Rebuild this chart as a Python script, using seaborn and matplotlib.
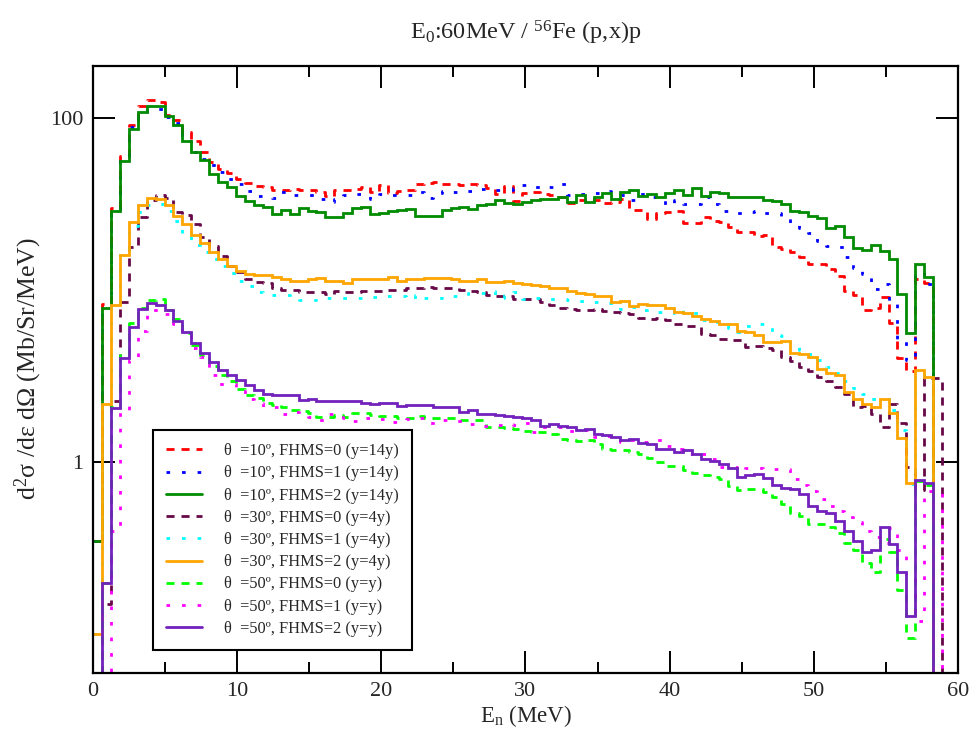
import numpy as np
import pandas as pd
import matplotlib
matplotlib.use("Agg")
import matplotlib.pyplot as plt
from matplotlib.ticker import NullLocator
from matplotlib.lines import Line2D
import seaborn as sns

# ---------------- data (per energy bin, bin width 0.62 MeV) ----------------
BIN_W = 0.62
NBIN = 95
OFF = 0.001  # below the axis: bin is empty

s10_0 = [0.35, 8.3, 30, 59.5, 90.6, 116, 127, 123, 103, 96.6,
         82.4, 73.6, 63, 55.2, 50.5, 47.6, 44.2, 41.6, 40.0, 39.6,
         37.8, 38.2, 38.7, 37.8, 37.8, 37.0, 34.9, 38.2, 37.8, 38.7,
         39.4, 37.0, 40.4, 36.5, 37.4, 37.8, 40.9, 41.6, 42.0, 41.3,
         41.3, 40.7, 40.9, 40.4, 39.0, 36.2, 39.9, 32.8, 36.5, 37.0,
         36.2, 35.3, 34.6, 31.9, 33.1, 33.8, 33.1, 31.9, 32.4, 33.5,
         28.9, 28.9, 25.7, 27.9, 28.2, 28.7, 24.4, 24.4, 26.5, 25.0,
         24.7, 23.2, 21.7, 21.7, 20.6, 20.9, 17.7, 17.3, 16.7, 15.5,
         14.2, 14.2, 13.3, 12.0, 9.9, 9.4, 7.6, 7.8, 9.1, 6.4,
         4.0, 3.4, 11.5, 11.0, OFF]
s10_1 = [0.35, 7.9, 28.6, 56, 88, 101, 110, 112, 101, 92.6,
         73.6, 63, 57.6, 52.8, 48.3, 44.2, 41.3, 37.5, 34.9, 34.9,
         34.2, 37.0, 35.6, 35.6, 35.3, 33.8, 32.4, 33.5, 35.3, 36.2,
         34.9, 33.8, 36.2, 35.6, 35.6, 35.3, 37.0, 34.2, 36.5, 37.5,
         37.0, 37.4, 37.4, 38.4, 38.4, 37.8, 37.8, 39.0, 40.7, 39.6,
         40.0, 39.6, 41.3, 35.6, 36.2, 36.2, 36.7, 37.4, 37.0, 35.3,
         33.3, 36.2, 34.6, 33.3, 31.0, 33.3, 31.4, 31.4, 34.6, 31.4,
         28.7, 28.7, 28.1, 28.2, 28.7, 27.9, 27.9, 26.5, 24.4, 22.9,
         21.3, 19.2, 17.9, 17.7, 15.5, 13.4, 12.3, 10.1, 10.8, 8.5,
         5.2, 3.9, 12.7, 10.8, OFF]
s10_2 = [0.35, 7.9, 28.6, 56, 85.5, 108, 116, 116, 102, 90.6,
         73.6, 63, 56.4, 46.9, 42.3, 39.6, 34.9, 32.7, 31.2, 30.3,
         27.7, 28.9, 27.7, 30.0, 28.7, 28.2, 26.4, 26.4, 27.9, 30.0,
         30.3, 27.7, 28.1, 28.6, 29.2, 29.6, 26.8, 26.8, 26.8, 29.2,
         29.9, 30.3, 29.3, 31.0, 31.7, 33.1, 31.9, 31.4, 32.4, 33.1,
         33.5, 33.8, 34.6, 32.4, 35.4, 32.4, 34.6, 36.7, 33.8, 36.8,
         37.8, 34.9, 36.2, 34.6, 36.7, 38.2, 35.6, 39.0, 35.1, 37.2,
         36.7, 34.4, 34.4, 34.4, 34.4, 33.1, 32.8, 31.7, 28.7, 28.2,
         27.0, 26.1, 22.9, 23.4, 20.3, 17.5, 17.1, 18.1, 16.9, 15.2,
         9.5, 5.6, 14.2, 11.9, OFF]
s30_0 = [OFF, 0.15, 2.26, 8.5, 17.7, 26.5, 33.1, 35.6, 34.2, 28.2,
         27.3, 24.2, 20.3, 17.9, 15.8, 13.8, 12.7, 11.6, 11.1, 10.9,
         10.2, 10.0, 10.0, 9.7, 9.7, 9.7, 9.5, 9.9, 9.7, 9.7,
         9.9, 9.9, 9.9, 10.0, 10.0, 10.3, 10.3, 10.4, 10.2, 10.3,
         10.2, 10.0, 9.8, 9.7, 9.3, 9.2, 9.2, 8.9, 8.8, 8.8,
         8.5, 8.2, 7.9, 7.7, 7.6, 7.6, 7.7, 7.5, 7.4, 7.3,
         7.2, 6.85, 6.8, 6.9, 6.65, 6.35, 6.2, 6.2, 5.56, 5.5,
         5.2, 5.13, 5.13, 4.65, 4.7, 4.6, 4.45, 4.07, 3.86, 3.56,
         3.37, 3.12, 2.95, 2.73, 2.49, 2.1, 2.13, 1.9, 1.61, 2.18,
         1.68, 0.935, 0.69, 3.06, 3.06]
s30_1 = [0.1, 2.13, 8.0, 16.0, 23.6, 28.5, 31.0, 31.7, 28.7, 25.0,
         21.2, 18.1, 16.6, 15.2, 13.8, 12.5, 11.2, 10.6, 9.7, 9.4,
         9.4, 9.4, 8.8, 8.7, 8.7, 9.0, 9.0, 9.0, 9.0, 9.0,
         9.0, 9.1, 9.2, 9.2, 9.2, 8.8, 9.4, 9.0, 9.0, 9.2,
         9.2, 9.2, 9.6, 9.6, 9.8, 9.0, 9.4, 9.7, 8.8, 9.0,
         9.0, 8.9, 8.9, 8.7, 8.6, 8.55, 8.5, 8.4, 8.2, 7.7,
         8.0, 7.6, 7.4, 7.4, 7.3, 7.7, 7.2, 7.3, 6.65, 6.5,
         6.5, 6.0, 5.7, 6.2, 6.3, 6.3, 5.5, 5.37, 4.87, 4.45,
         4.26, 3.93, 3.56, 3.29, 2.94, 2.69, 2.49, 2.33, 2.33, 2.0,
         1.53, 0.75, 3.3, 3.0, OFF]
s30_2 = [0.1, 2.18, 8.2, 16.0, 24.7, 31.2, 34.2, 33.8, 31.0, 27.0,
         24.2, 20.9, 18.7, 16.6, 15.2, 13.8, 12.8, 12.4, 12.2, 12.2,
         11.9, 11.6, 11.3, 11.2, 11.5, 11.7, 11.3, 11.3, 10.9, 11.5,
         11.5, 11.5, 11.5, 11.8, 11.3, 11.5, 11.5, 11.7, 11.7, 11.7,
         11.6, 11.3, 11.2, 11.5, 11.1, 11.1, 11.2, 10.9, 10.8, 10.7,
         10.6, 10.2, 10.2, 9.8, 9.6, 9.5, 9.2, 9.2, 8.5, 8.6,
         8.1, 8.3, 8.2, 8.2, 7.9, 7.4, 7.3, 7.1, 6.8, 6.6,
         6.35, 6.3, 5.8, 5.7, 5.5, 5.0, 5.0, 5.05, 4.3, 4.25,
         4.07, 3.48, 3.29, 3.19, 2.55, 2.33, 2.18, 2.09, 2.33, 1.93,
         1.39, 0.755, 3.41, 3.12, OFF]
s50_0 = [OFF, 0.2, 2.1, 4.17, 6.4, 7.9, 8.7, 8.8, 7.6, 6.8,
         5.6, 4.8, 4.2, 3.6, 3.19, 2.94, 2.67, 2.44, 2.36, 2.2,
         2.15, 2.1, 2.0, 1.98, 1.93, 1.84, 1.84, 1.87, 1.83, 1.93,
         1.93, 1.87, 1.85, 1.85, 1.81, 1.81, 1.85, 1.8, 1.8, 1.81,
         1.81, 1.75, 1.75, 1.76, 1.6, 1.6, 1.58, 1.55, 1.51, 1.5,
         1.5, 1.46, 1.37, 1.35, 1.32, 1.35, 1.28, 1.2, 1.18, 1.17,
         1.14, 1.12, 1.06, 1.0, 0.95, 0.95, 0.90, 0.87, 0.84, 0.82,
         0.80, 0.73, 0.685, 0.70, 0.70, 0.67, 0.63, 0.57, 0.51, 0.49,
         0.435, 0.435, 0.42, 0.39, 0.34, 0.31, 0.26, 0.23, 0.36, 0.30,
         0.18, 0.096, 0.78, 0.74, OFF]
s50_1 = [OFF, OFF, 0.4, 2.0, 3.9, 5.8, 7.6, 7.6, 7.2, 6.3,
         5.74, 4.6, 4.1, 3.21, 2.85, 2.85, 2.58, 2.33, 2.2, 2.09,
         2.09, 1.91, 1.95, 1.9, 1.84, 1.75, 1.91, 1.83, 1.8, 1.73,
         1.81, 1.79, 1.79, 1.71, 1.71, 1.77, 1.81, 1.69, 1.69, 1.75,
         1.73, 1.73, 1.67, 1.63, 1.63, 1.65, 1.67, 1.65, 1.69, 1.49,
         1.6, 1.6, 1.6, 1.51, 1.51, 1.53, 1.4, 1.41, 1.41, 1.31,
         1.34, 1.31, 1.31, 1.34, 1.24, 1.2, 1.11, 1.14, 1.11, 1.05,
         0.94, 0.94, 0.89, 0.92, 0.92, 0.91, 0.91, 0.91, 0.80, 0.74,
         0.68, 0.61, 0.56, 0.52, 0.48, 0.45, 0.40, 0.37, 0.34, 0.415,
         0.31, 0.22, 0.12, 0.68, 0.68]
s50_2 = [OFF, 0.2, 2.05, 4.04, 6.08, 7.77, 8.4, 8.2, 7.6, 6.6,
         5.7, 4.94, 4.3, 3.8, 3.45, 3.19, 2.98, 2.79, 2.61, 2.49,
         2.46, 2.44, 2.44, 2.31, 2.33, 2.25, 2.26, 2.28, 2.26, 2.28,
         2.2, 2.18, 2.21, 2.21, 2.13, 2.16, 2.16, 2.16, 2.09, 2.1,
         2.1, 1.95, 2.0, 1.91, 1.91, 1.87, 1.86, 1.84, 1.81, 1.76,
         1.63, 1.66, 1.63, 1.6, 1.53, 1.55, 1.46, 1.44, 1.4, 1.35,
         1.37, 1.3, 1.28, 1.2, 1.2, 1.14, 1.18, 1.11, 1.04, 1.02,
         0.98, 0.93, 0.82, 0.84, 0.85, 0.81, 0.74, 0.71, 0.70, 0.65,
         0.56, 0.52, 0.51, 0.455, 0.40, 0.35, 0.30, 0.31, 0.42, 0.336,
         0.23, 0.128, 0.79, 0.76, OFF]

labels = ["\u03b8  =10\u00ba, FHMS=0 (y=14y)", "\u03b8  =10\u00ba, FHMS=1 (y=14y)",
          "\u03b8  =10\u00ba, FHMS=2 (y=14y)", "\u03b8  =30\u00ba, FHMS=0 (y=4y)",
          "\u03b8  =30\u00ba, FHMS=1 (y=4y)", "\u03b8  =30\u00ba, FHMS=2 (y=4y)",
          "\u03b8  =50\u00ba, FHMS=0 (y=y)", "\u03b8  =50\u00ba, FHMS=1 (y=y)",
          "\u03b8  =50\u00ba, FHMS=2 (y=y)"]
series = [s10_0, s10_1, s10_2, s30_0, s30_1, s30_2, s50_0, s50_1, s50_2]

# ---------------- styles ----------------
colors = ["#ff0000", "#0000ff", "#008b00", "#670748", "#00ffff", "#ffa500",
          "#00ff00", "#ff00ff", "#7221bc"]
DASH = (0, (2.9, 2.5))
DOT = (0, (1.3, 4.3))
styles = [DASH, DOT, "-", DASH, DOT, "-", DASH, DOT, "-"]

sns.set_style("ticks")
plt.rcParams["font.family"] = ["Liberation Serif", "DejaVu Serif"]
plt.rcParams["mathtext.fontset"] = "custom"
plt.rcParams["mathtext.rm"] = "Liberation Serif"
plt.rcParams["mathtext.it"] = "Liberation Serif:italic"

fig = plt.figure(figsize=(9.75, 7.33), dpi=100)
ax = fig.add_axes([0.09538, 0.08226, 0.88718, 0.82810])
ax.set_yscale("log")

edges = np.arange(NBIN + 1) * BIN_W
LW = 2.0
for vals, col, ls in zip(series, colors, styles):
    yv = list(vals) + [OFF]
    df = pd.DataFrame({"E": edges, "v": yv})
    sns.lineplot(data=df, x="E", y="v", ax=ax, color=col, linewidth=LW,
                 linestyle=ls, drawstyle="steps-post", estimator=None,
                 sort=False, legend=False)

for ln in ax.get_lines()[:len(series)]:
    ln.set_dash_capstyle("butt")
    ln.set_solid_joinstyle("miter")

ax.set_xlim(0, 60)
ax.set_ylim(0.06, 200)
ax.set_xticks(range(0, 61, 10))
ax.set_xticks(range(5, 60, 10), minor=True)
ax.set_yticks([1, 100])
ax.set_yticklabels(["1", "100"])
ax.yaxis.set_minor_locator(NullLocator())
ax.tick_params(which="both", direction="in", top=True, right=True,
               width=1.4, color="black")
ax.tick_params(which="major", length=16, pad=7, labelsize=16)
ax.tick_params(which="minor", length=8)
for sp in ax.spines.values():
    sp.set_linewidth(1.6)
    sp.set_color("black")
    sp.set_visible(True)

ax.set_xlabel("E$_\\mathrm{n}$ (MeV)", fontsize=16.5, labelpad=1)
ax.set_ylabel("d$^\\mathrm{2}$\u03c3 /d\u03b5 d\u03a9 (Mb/Sr/MeV)", fontsize=18.5, labelpad=4)
ax.set_title("E$_\\mathrm{0}$:60MeV / $^\\mathrm{56}$Fe (p,x)p", fontsize=17.5, pad=19)

handles = [Line2D([], [], color=c, lw=LW, linestyle=s, dash_capstyle="butt")
           for c, s in zip(colors, styles)]
leg = ax.legend(handles, labels, loc="upper left",
                bbox_to_anchor=((153 - 93) / 865, (672.7 - 430) / 607),
                borderaxespad=0, fontsize=11.8, frameon=True, fancybox=False,
                edgecolor="black", framealpha=1, handlelength=2.2,
                handletextpad=1.35, labelspacing=0.38, borderpad=0.8)
leg.get_frame().set_linewidth(1.5)

fig.savefig("out.png", dpi=100)
